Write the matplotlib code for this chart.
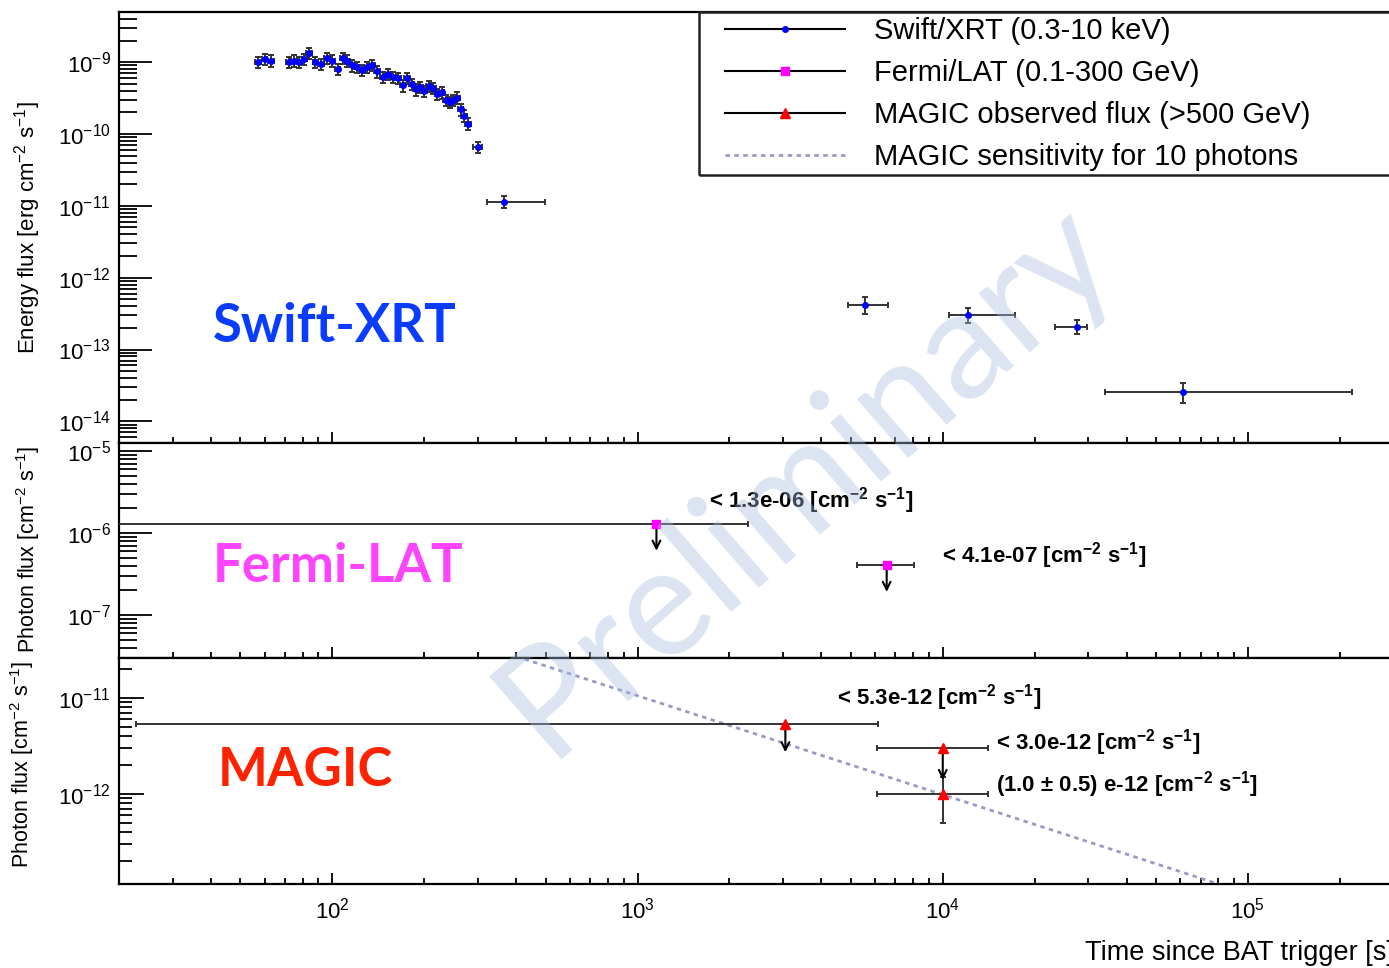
import numpy as np
import matplotlib
matplotlib.use("Agg")
import matplotlib.pyplot as plt
from matplotlib.lines import Line2D
from matplotlib.patches import Rectangle
from matplotlib.ticker import LogLocator, NullFormatter
from matplotlib.transforms import offset_copy

plt.rcParams["font.family"] = ["Liberation Sans", "DejaVu Sans"]
plt.rcParams["mathtext.fontset"] = "custom"
plt.rcParams["mathtext.rm"] = "Liberation Sans"
plt.rcParams["mathtext.it"] = "Liberation Sans:italic"
plt.rcParams["mathtext.bf"] = "Liberation Sans:bold"

# --- Swift/XRT, early dense part (time [s], energy flux [erg cm-2 s-1])
xrt_t = [57, 60, 63, 72, 75, 78, 81, 84, 88, 92, 96, 100, 104, 108, 112, 116,
         120, 125, 130, 135, 140, 146, 152, 158, 164, 170, 176, 182, 188, 194,
         200, 207, 214, 221, 228, 235, 242, 249, 256, 263, 270, 278]
xrt_terr = [1.2, 1.3, 1.4, 1.5, 1.6, 1.6, 1.7, 1.8, 1.9, 2.0, 2.0, 2.1, 2.2, 2.3,
            2.4, 2.5, 2.5, 2.6, 2.7, 2.8, 2.9, 3.0, 3.2, 3.3, 3.4, 3.5, 3.7, 3.8,
            3.9, 4.0, 4.2, 4.3, 4.5, 4.6, 4.7, 4.9, 5.0, 5.2, 5.3, 5.5, 5.6, 5.8]
xrt_f = [1.0e-9, 1.1e-9, 1.05e-9, 1.0e-9, 1.05e-9, 1.0e-9, 1.1e-9, 1.35e-9,
         1.0e-9, 0.95e-9, 1.15e-9, 1.05e-9, 0.8e-9, 1.15e-9, 1.05e-9, 0.9e-9,
         0.85e-9, 0.78e-9, 0.85e-9, 0.92e-9, 0.75e-9, 0.62e-9, 0.68e-9, 0.62e-9,
         0.6e-9, 0.48e-9, 0.6e-9, 0.5e-9, 0.42e-9, 0.45e-9, 0.4e-9, 0.46e-9,
         0.44e-9, 0.36e-9, 0.38e-9, 0.3e-9, 0.28e-9, 0.3e-9, 0.32e-9, 0.22e-9,
         0.18e-9, 0.14e-9]
xrt_ferr = [1.8e-10, 2.0e-10, 1.9e-10, 1.8e-10, 1.9e-10, 1.8e-10, 2.0e-10, 2.4e-10,
            1.8e-10, 1.7e-10, 2.1e-10, 1.9e-10, 1.4e-10, 2.1e-10, 1.9e-10, 1.6e-10,
            1.5e-10, 1.4e-10, 1.5e-10, 1.7e-10, 1.4e-10, 1.1e-10, 1.2e-10, 1.1e-10,
            1.1e-10, 0.9e-10, 1.1e-10, 0.9e-10, 0.8e-10, 0.8e-10, 0.7e-10, 0.8e-10,
            0.8e-10, 0.65e-10, 0.7e-10, 0.55e-10, 0.5e-10, 0.55e-10, 0.6e-10,
            0.4e-10, 0.33e-10, 0.26e-10]

# --- Swift/XRT, later binned points
xrt2_t = [299, 366, 5550, 12100, 27500, 61200]
xrt2_tlo = [290, 320, 4890, 10500, 23300, 34000]
xrt2_thi = [309, 496, 6600, 17200, 29600, 219000]
xrt2_f = [6.6e-11, 1.14e-11, 4.2e-13, 3.06e-13, 2.09e-13, 2.6e-14]
xrt2_ferr = [1.2e-11, 2.2e-12, 1.1e-13, 0.7e-13, 0.45e-13, 0.8e-14]

# --- Fermi/LAT upper limits (photon flux [cm-2 s-1])
lat_t = [1153, 6550]
lat_tlo = [10, 5220]
lat_thi = [2300, 8040]
lat_f = [1.3e-6, 4.1e-7]
lat_text = ["< 1.3e-06 [cm$^{\\mathbf{-2}}$ s$^{\\mathbf{-1}}$]",
            "< 4.1e-07 [cm$^{\\mathbf{-2}}$ s$^{\\mathbf{-1}}$]"]

# --- MAGIC: two upper limits and one detection
magic_ul_t = [3050, 10000]
magic_ul_tlo = [22.8, 6080]
magic_ul_thi = [6120, 14100]
magic_ul_f = [5.3e-12, 3.0e-12]
magic_det_t = [10000]
magic_det_tlo = [6080]
magic_det_thi = [14100]
magic_det_f = [1.0e-12]
magic_det_ferr = [0.5e-12]
magic_text = ["< 5.3e-12 [cm$^{\\mathbf{-2}}$ s$^{\\mathbf{-1}}$]",
              "< 3.0e-12 [cm$^{\\mathbf{-2}}$ s$^{\\mathbf{-1}}$]",
              "(1.0 $\\mathbf{\\pm}$ 0.5) e-12 [cm$^{\\mathbf{-2}}$ s$^{\\mathbf{-1}}$]"]

# MAGIC sensitivity line (10 photons)
sens_t = [400, 8.0e4]
sens_f = [2.7e-11, 1.15e-13]

legend_labels = ["Swift/XRT (0.3-10 keV)", "Fermi/LAT (0.1-300 GeV)",
                 "MAGIC observed flux (>500 GeV)", "MAGIC sensitivity for 10 photons"]

SENS_COLOR = "#9a9ac4"
EBAR = dict(ecolor="#333333", elinewidth=1.4, capsize=2.5, capthick=1.4)

W, H = 1389, 968
fig = plt.figure(figsize=(W / 100, H / 100), dpi=100)
left, width = 0.0857, 0.9176
ax1 = fig.add_axes([left, 0.5424, width, 0.4452])
ax2 = fig.add_axes([left, 0.3202, width, 0.2221], sharex=ax1)
ax3 = fig.add_axes([left, 0.0868, width, 0.2335], sharex=ax1)

for ax in (ax1, ax2, ax3):
    ax.set_xscale("log")
    ax.set_yscale("log")
    for s in ax.spines.values():
        s.set_linewidth(1.6)
    ax.tick_params(axis="both", which="both", direction="in", top=False, right=False,
                   labelsize=16, width=1.3)
    ax.tick_params(axis="x", which="major", length=8, pad=10)
    ax.tick_params(axis="x", which="minor", length=4.5)
    ax.yaxis.set_major_locator(LogLocator(base=10, numticks=20))
    ax.yaxis.set_minor_locator(LogLocator(base=10, subs=np.arange(2, 10), numticks=20))
    ax.yaxis.set_minor_formatter(NullFormatter())
    ax.xaxis.set_minor_locator(LogLocator(base=10, subs=np.arange(2, 10), numticks=20))
    ax.xaxis.set_minor_formatter(NullFormatter())

for ax in (ax1, ax2):
    ax.tick_params(axis="y", which="major", length=24, pad=6)
    ax.tick_params(axis="y", which="minor", length=13)
    ax.tick_params(axis="x", labelbottom=False)
ax3.tick_params(axis="y", which="major", length=18, pad=6)
ax3.tick_params(axis="y", which="minor", length=9.5)

ax1.set_xlim(20, 3e5)
ax1.set_ylim(5e-15, 5e-9)
ax2.set_ylim(3e-8, 1.25e-5)
ax3.set_ylim(1.15e-13, 2.6e-11)

# Swift/XRT
ax1.errorbar(xrt_t, xrt_f, xerr=xrt_terr, yerr=xrt_ferr, fmt="o", ms=4,
             mfc="blue", mec="blue", zorder=3, **EBAR)
xerr2 = [np.subtract(xrt2_t, xrt2_tlo), np.subtract(xrt2_thi, xrt2_t)]
ax1.errorbar(xrt2_t, xrt2_f, xerr=xerr2, yerr=xrt2_ferr, fmt="o", ms=4,
             mfc="blue", mec="blue", zorder=3, **EBAR)

# Fermi/LAT
arrow = dict(arrowstyle="->", lw=1.5, color="k", shrinkA=0, shrinkB=0, mutation_scale=14)
lat_xerr = [np.subtract(lat_t, lat_tlo), np.subtract(lat_thi, lat_t)]
ax2.errorbar(lat_t, lat_f, xerr=lat_xerr, fmt="s", ms=6, mfc="magenta", mec="magenta",
             zorder=3, **EBAR)
lat_offsets = [(38, 17), (40, 6.5)]
for t, f, txt, off in zip(lat_t, lat_f, lat_text, lat_offsets):
    ax2.annotate("", xy=(t, f), xycoords=offset_copy(ax2.transData, fig=fig, y=-27, units="dots"),
                 xytext=(t, f), textcoords="data", arrowprops=arrow)
    ax2.annotate(txt, xy=(t, f), xytext=off, textcoords="offset points",
                 ha="left", va="center", fontsize=16, fontweight="bold")

# MAGIC
ax3.plot(sens_t, sens_f, color=SENS_COLOR, lw=2, dashes=(1.6, 1.6), zorder=2)
ul_xerr = [np.subtract(magic_ul_t, magic_ul_tlo), np.subtract(magic_ul_thi, magic_ul_t)]
ax3.errorbar(magic_ul_t, magic_ul_f, xerr=ul_xerr, fmt="^", ms=7, mfc="red", mec="red",
             zorder=3, **EBAR)
det_xerr = [np.subtract(magic_det_t, magic_det_tlo), np.subtract(magic_det_thi, magic_det_t)]
ax3.errorbar(magic_det_t, magic_det_f, xerr=det_xerr, yerr=magic_det_ferr, fmt="^", ms=7,
             mfc="red", mec="red", zorder=3, **EBAR)
for t, f, L in zip(magic_ul_t, magic_ul_f, [28, 32]):
    ax3.annotate("", xy=(t, f), xycoords=offset_copy(ax3.transData, fig=fig, y=-L, units="dots"),
                 xytext=(t, f), textcoords="data", arrowprops=arrow)
magic_offsets = [(37, 19), (38, 4), (38, 7)]
for t, f, txt, off in zip(magic_ul_t + magic_det_t, magic_ul_f + magic_det_f, magic_text, magic_offsets):
    ax3.annotate(txt, xy=(t, f), xytext=off, textcoords="offset points",
                 ha="left", va="center", fontsize=16, fontweight="bold")

# legend: frame drawn by hand, entries placed without frame
fig.add_artist(Rectangle((699 / W, 1 - 175 / H), 0.52, 163 / H, transform=fig.transFigure,
                         fill=False, edgecolor="#222222", lw=1.8, zorder=4))
handles = [
    Line2D([], [], color="k", lw=1.5, marker="o", ms=4, mfc="blue", mec="blue"),
    Line2D([], [], color="k", lw=1.5, marker="s", ms=6, mfc="magenta", mec="magenta"),
    Line2D([], [], color="k", lw=1.5, marker="^", ms=7, mfc="red", mec="red"),
    Line2D([], [], color=SENS_COLOR, lw=2, dashes=(1.6, 1.6)),
]
fig.legend(handles, legend_labels, loc="upper left",
           bbox_to_anchor=(725 / W, 1 - 17 / H), frameon=False, fontsize=21,
           handlelength=4.1, handletextpad=1.0, labelspacing=0.48,
           borderpad=0, borderaxespad=0)

# axis titles
fig.text(0.02, 0.765, "Energy flux [erg cm$^{-2}$ s$^{-1}$]", rotation=90,
         ha="center", va="center", fontsize=16)
fig.text(0.02, 0.432, "Photon flux [cm$^{-2}$ s$^{-1}$]", rotation=90,
         ha="center", va="center", fontsize=15.5)
fig.text(0.016, 0.21, "Photon flux [cm$^{-2}$ s$^{-1}$]", rotation=90,
         ha="center", va="center", fontsize=15.5)
fig.text(1085 / W, 1 - 953 / H, "Time since BAT trigger [s]",
         ha="left", va="center", fontsize=19.5)

# instrument labels
fig.text(213 / W, 1 - 326 / H, "Swift-XRT", color="#0a3cff", fontsize=38,
         fontweight="bold", family=["Lato", "DejaVu Sans"], ha="left", va="center")
fig.text(213 / W, 1 - 566 / H, "Fermi-LAT", color="#ff44ff", fontsize=38,
         fontweight="bold", family=["Lato", "DejaVu Sans"], ha="left", va="center")
fig.text(218 / W, 1 - 771 / H, "MAGIC", color="#ff2200", fontsize=38,
         fontweight="bold", family=["Lato", "DejaVu Sans"], ha="left", va="center")

# watermark
fig.text(805 / W, 1 - 478 / H, "Preliminary", rotation=41, fontsize=110,
         color="#a8bddf", alpha=0.4, ha="center", va="center",
         family=["Lato", "DejaVu Sans"], zorder=10)

fig.savefig("out.png", dpi=100)
